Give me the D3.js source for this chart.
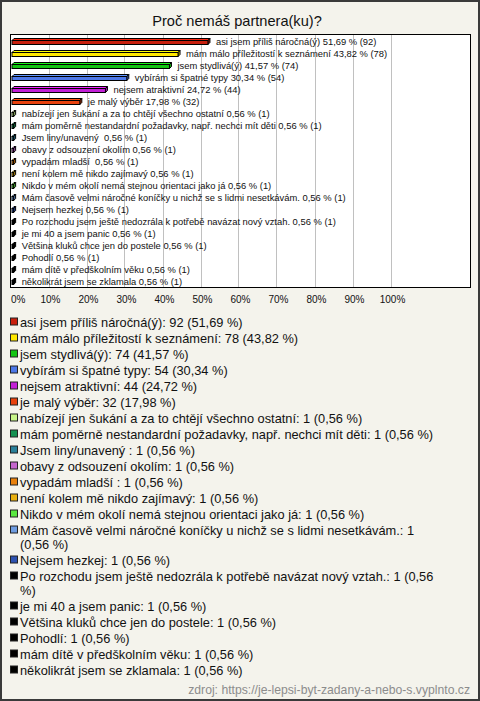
<!DOCTYPE html>
<html>
<head>
<meta charset="utf-8">
<script src="https://cdn.jsdelivr.net/npm/d3@7"></script>
<style>
  html, body { margin: 0; padding: 0; background: #f4f3ec; }
  svg { display: block; }
</style>
</head>
<body>
<svg id="chart" width="480" height="701"></svg>
<script>
const title = "Proč nemáš partnera(ku)?";
const categories = [
  "asi jsem příliš náročná(ý)",
  "mám málo příležitostí k seznámení",
  "jsem stydlivá(ý)",
  "vybírám si špatné typy",
  "nejsem atraktivní",
  "je malý výběr",
  "nabízejí jen šukání a za to chtějí všechno ostatní",
  "mám poměrně nestandardní požadavky, např. nechci mít děti",
  "Jsem liny/unavený ",
  "obavy z odsouzení okolím",
  "vypadám mladší ",
  "není kolem mě nikdo zajímavý",
  "Nikdo v mém okolí nemá stejnou orientaci jako já",
  "Mám časově velmi náročné koníčky u nichž se s lidmi nesetkávám.",
  "Nejsem hezkej",
  "Po rozchodu jsem ještě nedozrála k potřebě navázat nový vztah.",
  "je mi 40 a jsem panic",
  "Většina kluků chce jen do postele",
  "Pohodlí",
  "mám dítě v předškolním věku",
  "několikrát jsem se zklamala"
];
const counts = [92, 78, 74, 54, 44, 32, 1, 1, 1, 1, 1, 1, 1, 1, 1, 1, 1, 1, 1, 1, 1];
const percents = [51.69, 43.82, 41.57, 30.34, 24.72, 17.98, 0.56, 0.56, 0.56, 0.56, 0.56, 0.56, 0.56, 0.56, 0.56, 0.56, 0.56, 0.56, 0.56, 0.56, 0.56];
const colors = ["#c8200e", "#ffe800", "#14c414", "#4d78e8", "#c21fd6", "#e8420e", "#c8f58a", "#149050", "#2a8099", "#c466cc", "#e8800c", "#e8b010", "#5ae640", "#6e9ce0", "#2d52b0", "#000000", "#000000", "#000000", "#000000", "#000000", "#000000"];
const ticks = [0, 10, 20, 30, 40, 50, 60, 70, 80, 90, 100];
const source = "zdroj: https://je-lepsi-byt-zadany-a-nebo-s.vyplnto.cz";

const fmt = v => v.toFixed(2).replace(".", ",");
const svg = d3.select("#chart");
const font = "Liberation Sans, Arial, sans-serif";

// outer frame
svg.append("rect").attr("x", 1).attr("y", 1).attr("width", 478).attr("height", 699)
  .attr("fill", "#f4f3ec").attr("stroke", "#3a3a3a").attr("stroke-width", 2);

// title
svg.append("text").attr("x", 237).attr("y", 26).attr("text-anchor", "middle")
  .attr("font-family", font).attr("font-size", 14.6).attr("fill", "#111").text(title);

// plot area
const plot = { left: 10.5, top: 34.5, right: 470.5, bottom: 287.5 };
svg.append("rect").attr("x", plot.left).attr("y", plot.top)
  .attr("width", plot.right - plot.left).attr("height", plot.bottom - plot.top)
  .attr("fill", "#ffffff");

const x = d3.scaleLinear().domain([0, 100]).range([11.5, 391.5]);
const y = d3.scaleBand().domain(categories).range([35, 287]).padding(0);

// gridlines
svg.append("g").selectAll("line").data(ticks.filter(t => t > 0)).join("line")
  .attr("x1", d => Math.round(x(d)) - 0.5).attr("x2", d => Math.round(x(d)) - 0.5)
  .attr("y1", plot.top).attr("y2", plot.bottom)
  .attr("stroke", "#c0c0c0").attr("stroke-width", 1);

svg.append("rect").attr("x", plot.left).attr("y", plot.top)
  .attr("width", plot.right - plot.left).attr("height", plot.bottom - plot.top)
  .attr("fill", "none").attr("stroke", "#000").attr("stroke-width", 1);

// bars (pseudo 3D)
const depth = 2;
const bars = svg.append("g");
categories.forEach((c, i) => {
  const cy = y(c) + y.bandwidth() / 2;
  const x0 = x(0) + 0.5;
  const x1 = Math.max(x(percents[i]), x0 + 1.5);
  const top = cy - 0.5, bot = cy + 3.5;
  const col = colors[i];
  const light = d3.color(col).brighter(0.6).formatHex();
  const dark = d3.color(col).darker(0.6).formatHex();
  bars.append("path")
    .attr("d", `M${x0},${top} L${x0 + depth},${top - depth} L${x1 + depth},${top - depth} L${x1},${top} Z`)
    .attr("fill", light).attr("stroke", "#000").attr("stroke-width", 1).attr("stroke-linejoin", "round");
  bars.append("path")
    .attr("d", `M${x1},${top} L${x1 + depth},${top - depth} L${x1 + depth},${bot - depth} L${x1},${bot} Z`)
    .attr("fill", dark).attr("stroke", "#000").attr("stroke-width", 1).attr("stroke-linejoin", "round");
  bars.append("rect").attr("x", x0).attr("y", top).attr("width", x1 - x0).attr("height", bot - top)
    .attr("fill", col).attr("stroke", "#000").attr("stroke-width", 1);
  bars.append("text").attr("x", x1 + depth + 6).attr("y", cy + 3.5)
    .attr("font-family", font).attr("font-size", 9.4).attr("fill", "#111")
    .attr("xml:space", "preserve")
    .text(`${c} ${fmt(percents[i])} % (${counts[i]})`);
});

// x tick labels
svg.append("g").selectAll("text").data(ticks).join("text")
  .attr("x", d => d === 0 ? 11 : x(d) + 1)
  .attr("y", 303)
  .attr("text-anchor", d => d === 0 ? "start" : "middle")
  .attr("font-family", font).attr("font-size", 10).attr("fill", "#111")
  .text(d => d + "%");

// legend
const legend = svg.append("g");
let ly = 322.5;
const maxW = 425;
categories.forEach((c, i) => {
  legend.append("rect").attr("x", 10.5).attr("y", ly - 4.5).attr("width", 7).attr("height", 7)
    .attr("fill", colors[i]).attr("stroke", "#222").attr("stroke-width", 1);
  const str = `${c}: ${counts[i]} (${fmt(percents[i])} %)`;
  const t = legend.append("text").attr("x", 20).attr("y", ly + 4.5)
    .attr("font-family", font).attr("font-size", 12.8).attr("fill", "#111")
    .attr("xml:space", "preserve");
  const words = str.split(" ");
  let line = [];
  let tspan = t.append("tspan").attr("x", 20).attr("y", ly + 4.5);
  let lines = 1;
  words.forEach(w => {
    line.push(w);
    tspan.text(line.join(" "));
    if (tspan.node().getComputedTextLength() > maxW && line.length > 1) {
      line.pop();
      tspan.text(line.join(" "));
      line = [w];
      tspan = t.append("tspan").attr("x", 20).attr("y", ly + 4.5 + 14 * lines).text(w);
      lines++;
    }
  });
  ly += 16 + 14 * (lines - 1);
});

// source
svg.append("text").attr("x", 470).attr("y", 694).attr("text-anchor", "end")
  .attr("font-family", font).attr("font-size", 12.2).attr("fill", "#8c8c8c").text(source);
</script>
</body>
</html>
